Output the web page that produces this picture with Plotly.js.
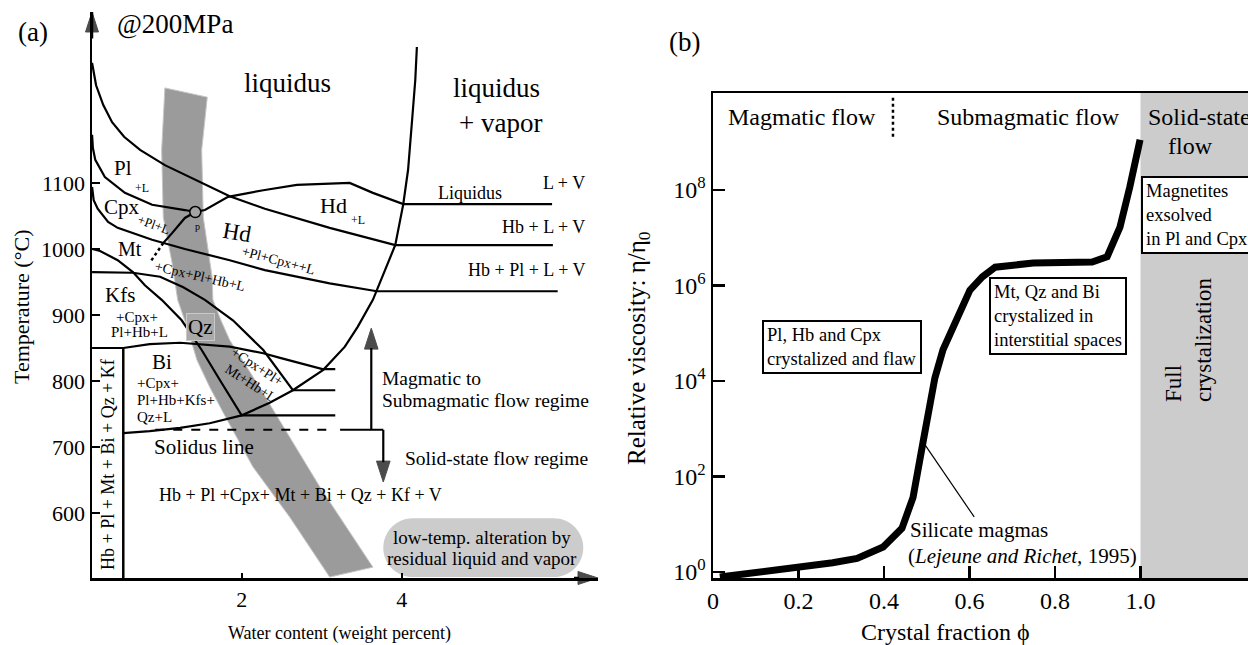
<!DOCTYPE html>
<html>
<head>
<meta charset="utf-8">
<script src="https://cdn.plot.ly/plotly-3.0.1.min.js"></script>
<style>html,body{margin:0;padding:0;background:#fff;}#chart{width:1248px;height:645px;}</style>
</head>
<body>
<div id="chart"></div>
<script>
// ---------- Panel (a): phase diagram @200MPa (x = water wt%, T = °C) ----------
const plLiqX = [0.13,0.18,0.27,0.38,0.53,0.73,1.04,1.42,1.85,2.29,3.10,3.92,5.89];
const plLiqT = [1282,1248,1218,1192,1170,1150,1127,1105,1080,1061,1032,1006,1006];
const hdX = [1.42,1.54,1.83,2.27,2.69,3.35,3.64,4.02,5.88];
const hdT = [1056,1059,1079,1089,1097,1100,1085,1068,1068];
const hdLowX = [1.42,1.29,1.13,1.02];
const hdLowT = [1056,1047,1024,1009];
const hdDotX = [1.02,0.85];
const hdDotT = [1009,979];
const cpxUpX = [0.13,0.14,0.17,0.29,0.54,0.88,1.29,1.42];
const cpxUpT = [1173,1153,1135,1109,1085,1067,1059,1056];
const cpxLowX = [0.13,0.15,0.20,0.33,0.45,0.88,1.29,1.85,2.29,3.10,3.69,5.95];
const cpxLowT = [1094,1074,1061,1041,1032,1014,1000,983,968,948,936,936];
const mtX = [0.13,0.23,0.45,0.64,0.79,1.00,1.25,1.50,1.75,2.00,3.17];
const mtT = [1000,997,983,965,945,923,892,847,797,748,748];
const kfsX = [0.13,0.64,0.98,1.27,1.54,1.89,2.27,2.64,3.17];
const kfsT = [965,964,958,942,923,892,847,786,786];
const biX = [0.13,0.52,0.85,1.23,1.85,2.27,2.48,3.01,3.17];
const biT = [850,850,856,858,852,842,835,818,818];
const vaporX = [0.52,0.85,1.23,1.60,2.00,2.35,2.64,3.02,3.29,3.45,3.64,3.79,3.92,4.02,4.08,4.13,4.17,4.19];
const vaporT = [721,724,729,736,748,767,786,817,852,882,923,968,1006,1068,1120,1195,1256,1306];
const subBoxX = [0.52,0.52];
const subBoxT = [501.6,850];
const solidusX = [0.92,3.14];
const solidusT = [726,726];
const solidusLinkX = [3.23,3.77];
const solidusLinkT = [726,726];
const regimeUpX = [3.62,3.62];
const regimeUpT = [726,880];
const regimeDownX = [3.77,3.77];
const regimeDownT = [726,647];
const pointPX = [1.42];
const pointPT = [1056];
const bandX = [1.04,1.00,1.02,1.13,1.20,1.33,1.44,1.60,1.77,2.14,2.60,3.10,3.64,2.98,2.57,2.19,1.85,1.74,1.64,1.63,1.52,1.50,1.57,1.04];
const bandT = [1244,1150,1048,979,923,877,832,791,752,670,594,503,518,639,721,797,862,892,923,958,1048,1150,1230,1244];
const alterBox = {x0:3.77, x1:6.27, t0:503, t1:592};
const tempTicks = [600,700,800,900,1000,1100];
const waterTicks = [2,4];
const waterRange = [0.129, 6.454];
const tempRange = [501.6, 1359];

// ---------- Panel (b): relative viscosity vs crystal fraction ----------
const phi = [0.016,0.10,0.199,0.28,0.337,0.398,0.442,0.468,0.491,0.519,0.538,0.57,0.601,0.63,0.66,0.749,0.887,0.922,0.952,0.975,0.999];
const eta = [0.776,0.955,1.2,1.55,1.9,3.31,8.13,36.3,501,1.15e4,4.47e4,1.9e5,7.94e5,1.51e6,2.4e6,2.95e6,3.09e6,3.98e6,1.66e7,1.15e8,1.12e9];
const leaderPhi = [0.496,0.611];
const leaderEta = [457,14.1];
const dividerPhi = [0.421,0.421];
const dividerEta = [8.5e9,1.3e9];
const phiTicks = [0,0.2,0.4,0.6,0.8,1.0];
const phiTickText = ['0','0.2','0.4','0.6','0.8','1.0'];
const etaTicks = [1,1e2,1e4,1e6,1e8];
const etaTickText = ['10<sup>0</sup>','10<sup>2</sup>','10<sup>4</sup>','10<sup>6</sup>','10<sup>8</sup>'];
const phiRange = [0, 1.2515];
const solidStateStart = 1.0;

// ---------- layout helpers ----------
const W = 1248, H = 645;
const SERIF = '"Liberation Serif", "Times New Roman", serif';
const PX = x => x / W;
const PY = y => 1 - y / H;
function T(text, x, y, size, extra) {
  return Object.assign({text: text, x: PX(x), y: PY(y), xref: 'paper', yref: 'paper',
    showarrow: false, xanchor: 'center', yanchor: 'middle',
    font: {family: SERIF, size: size, color: '#000'}}, extra || {});
}
function line(x, y, w, extra) {
  return Object.assign({x: x, y: y, mode: 'lines', xaxis: 'x', yaxis: 'y',
    line: {color: '#000', width: w}, hoverinfo: 'skip'}, extra || {});
}
function arrowLine(x, y, w, head) {
  return {x: x, y: y, mode: 'lines+markers', xaxis: 'x', yaxis: 'y', hoverinfo: 'skip',
    cliponaxis: false,
    line: {color: '#000', width: w},
    marker: {symbol: 'arrow', angleref: 'previous', size: x.map((v, i) => i === x.length - 1 ? head : 0),
             color: '#000', line: {width: 1, color: '#000'}}};
}

const traces = [
  {x: bandX, y: bandT, mode: 'lines', fill: 'toself', fillcolor: '#9b9b9b',
   line: {color: '#c6c6c6', width: 1}, xaxis: 'x', yaxis: 'y', hoverinfo: 'skip'},
  line(plLiqX, plLiqT, 2.2),
  line(hdX, hdT, 2.2),
  line(hdLowX, hdLowT, 2.2),
  line(hdDotX, hdDotT, 2.5, {line: {color: '#000', width: 2.5, dash: 'dot'}}),
  line(cpxUpX, cpxUpT, 2.2),
  line(cpxLowX, cpxLowT, 2.2),
  line(mtX, mtT, 2.2),
  line(kfsX, kfsT, 2.2),
  line(biX, biT, 2.2),
  line(vaporX, vaporT, 2.2),
  line(subBoxX, subBoxT, 2.5),
  line(solidusX, solidusT, 2, {line: {color: '#000', width: 2, dash: 'dash'}}),
  line(solidusLinkX, solidusLinkT, 2),
  arrowLine(regimeUpX, regimeUpT, 2.2, 22),
  arrowLine(regimeDownX, regimeDownT, 2.2, 22),
  // axis arrowheads of panel (a)
  arrowLine([waterRange[0], waterRange[0]], [tempRange[1] - 40, tempRange[1]], 2.5, 21),
  arrowLine([waterRange[1] - 0.3, waterRange[1]], [tempRange[0], tempRange[0]], 2.5, 21),
  {x: pointPX, y: pointPT, mode: 'markers', xaxis: 'x', yaxis: 'y', hoverinfo: 'skip',
   marker: {size: 11, color: '#a3a3a3', line: {color: '#000', width: 1.5}}},
  // panel (b)
  {x: phi, y: eta, mode: 'lines', xaxis: 'x2', yaxis: 'y2', hoverinfo: 'skip',
   line: {color: '#000', width: 7}},
  {x: leaderPhi, y: leaderEta, mode: 'lines', xaxis: 'x2', yaxis: 'y2', hoverinfo: 'skip',
   line: {color: '#000', width: 1.2}},
  {x: dividerPhi, y: dividerEta, mode: 'lines', xaxis: 'x2', yaxis: 'y2', hoverinfo: 'skip',
   line: {color: '#000', width: 2.5, dash: 'dot'}}
];

const k = 0.5523;
const ab = alterBox, rx = 0.37, rt = (ab.t1 - ab.t0) / 2, tm = (ab.t1 + ab.t0) / 2;
const pillPath = `M ${ab.x0+rx},${ab.t1} L ${ab.x1-rx},${ab.t1} ` +
  `C ${ab.x1-rx+k*rx},${ab.t1} ${ab.x1},${tm+k*rt} ${ab.x1},${tm} ` +
  `C ${ab.x1},${tm-k*rt} ${ab.x1-rx+k*rx},${ab.t0} ${ab.x1-rx},${ab.t0} ` +
  `L ${ab.x0+rx},${ab.t0} ` +
  `C ${ab.x0+rx-k*rx},${ab.t0} ${ab.x0},${tm-k*rt} ${ab.x0},${tm} ` +
  `C ${ab.x0},${tm+k*rt} ${ab.x0+rx-k*rx},${ab.t1} ${ab.x0+rx},${ab.t1} Z`;

const boxStyle = {xanchor: 'left', yanchor: 'top', align: 'left', bgcolor: '#fff',
  bordercolor: '#000', borderwidth: 2, borderpad: 3};

const annotations = [
  // panel (a) texts
  T('(a)', 33, 32, 27),
  T('@200MPa', 175, 24, 27),
  T('liquidus', 287, 83, 27),
  T('liquidus', 497, 88, 27),
  T('+ vapor', 500, 123, 27),
  T('Liquidus', 470, 193, 18),
  T('L + V', 587, 183, 18, {xanchor: 'right'}),
  T('Hb + L + V', 587, 227, 18, {xanchor: 'right'}),
  T('Hb + Pl + L + V', 587, 270, 18, {xanchor: 'right'}),
  T('Pl', 123, 168, 21),
  T('+L', 142, 188, 12),
  T('Cpx', 122, 207, 21),
  T('+Pl+L', 154, 225, 13, {textangle: 20}),
  T('Hd', 237, 232, 23, {textangle: 10}),
  T('+Pl+Cpx++L', 278, 260, 14, {textangle: 15}),
  T('Hd', 333, 205, 22),
  T('+L', 358, 220, 12),
  T('Mt', 130, 249, 20),
  T('+Cpx+Pl+Hb+L', 200, 276, 14, {textangle: 13}),
  T('Kfs', 120, 295, 21),
  T('+Cpx+', 137, 317, 15),
  T('Pl+Hb+L', 139, 332, 15),
  T('Qz', 200, 327, 21, {bgcolor: '#a9a9a9', bordercolor: '#c9c9c9', borderwidth: 1, borderpad: 1}),
  T('Bi', 162, 362, 21),
  T('+Cpx+', 135, 383, 15, {xanchor: 'left'}),
  T('Pl+Hb+Kfs+', 135, 400, 15, {xanchor: 'left'}),
  T('Qz+L', 135, 417, 15, {xanchor: 'left'}),
  T('+Cpx+Pl+', 257, 366, 14, {textangle: 33}),
  T('Mt+Hb+L', 251, 383, 14, {textangle: 33}),
  T('p', 197, 226, 10),
  T('Solidus line', 204, 447, 21),
  T('Magmatic to', 380, 378, 19.5, {xanchor: 'left'}),
  T('Submagmatic flow regime', 380, 400, 19.5, {xanchor: 'left'}),
  T('Solid-state flow regime', 403, 458, 19.5, {xanchor: 'left'}),
  T('Hb + Pl +Cpx+ Mt + Bi + Qz + Kf + V', 300, 495, 18),
  T('low-temp. alteration by', 482, 537, 19),
  T('residual liquid and vapor', 482, 558, 19),
  T('Hb + Pl + Mt + Bi + Qz + Kf', 108, 465, 18, {textangle: -90}),
  T('Temperature (°C)', 21, 307, 22, {textangle: -90}),
  T('Water content (weight percent)', 340, 633, 18),
  // panel (b) texts
  T('(b)', 684, 42, 27),
  T('Magmatic flow', 802, 117, 24),
  T('Submagmatic flow', 1028, 117, 24),
  T('Solid-state', 1146, 117, 24, {xanchor: 'left'}),
  T('flow', 1190, 146, 24),
  T('Pl, Hb and Cpx<br>crystalized and flaw', 762, 320, 18.5, boxStyle),
  T('Mt, Qz and Bi<br>crystalized in<br>interstitial spaces', 989, 277, 18.5, boxStyle),
  T('Magnetites<br>exsolved<br>in Pl and Cpx', 1141, 176, 18.5, boxStyle),
  T('Full<br>crystalization', 1188, 340, 23, {textangle: -90, align: 'left'}),
  T('Silicate magmas', 908, 530, 21, {xanchor: 'left'}),
  T('(<i>Lejeune and Richet,</i> 1995)', 906, 556, 21, {xanchor: 'left'}),
  T('Crystal fraction ϕ', 945, 632, 24),
  T('Relative viscosity: η/η<sub>0</sub>', 638, 348, 25, {textangle: -90})
];

const axisA = {showgrid: false, zeroline: false, showline: true, linecolor: '#000', linewidth: 2.5,
  tickcolor: '#000', tickwidth: 2, tickfont: {family: SERIF, size: 22, color: '#000'}};
const axisB = {showgrid: false, zeroline: false, showline: true, linecolor: '#000', linewidth: 2.5,
  tickcolor: '#000', tickwidth: 2.5, ticks: 'inside', ticklen: 12,
  tickfont: {family: SERIF, size: 24, color: '#000'}};

const layout = {
  width: W, height: H, margin: {l: 0, r: 0, t: 0, b: 0},
  paper_bgcolor: '#fff', plot_bgcolor: 'rgba(0,0,0,0)', showlegend: false,
  font: {family: SERIF, color: '#000'},
  xaxis: Object.assign({}, axisA, {domain: [92/W, 598/W], range: waterRange, anchor: 'y',
    tickmode: 'array', tickvals: waterTicks, ticks: 'inside', ticklen: 5}),
  yaxis: Object.assign({}, axisA, {domain: [1 - 578/H, 1 - 12/H], range: tempRange, anchor: 'x',
    tickmode: 'array', tickvals: tempTicks, ticks: 'inside', ticklen: 8}),
  xaxis2: Object.assign({}, axisB, {domain: [713/W, 1], range: phiRange, anchor: 'y2',
    tickmode: 'array', tickvals: phiTicks, ticktext: phiTickText, mirror: true}),
  yaxis2: Object.assign({}, axisB, {domain: [1 - 578/H, 1 - 93/H], type: 'log', range: [-0.13, 10.03], anchor: 'x2',
    tickmode: 'array', tickvals: etaTicks, ticktext: etaTickText}),
  shapes: [
    {type: 'rect', xref: 'x2', yref: 'y2 domain', x0: solidStateStart, x1: phiRange[1], y0: 0, y1: 1,
     fillcolor: '#cccccc', line: {width: 0}, layer: 'below'},
    {type: 'path', xref: 'x', yref: 'y', path: pillPath, fillcolor: '#cccccc', line: {width: 0}, layer: 'below'}
  ],
  annotations: annotations
};

Plotly.newPlot('chart', traces, layout, {staticPlot: true, displayModeBar: false});
</script>
</body>
</html>
